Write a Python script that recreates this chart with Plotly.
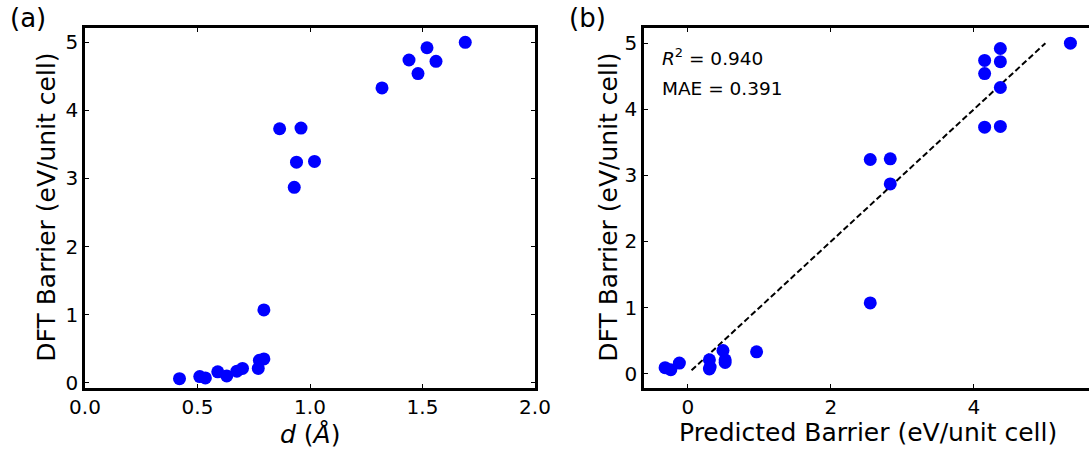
import plotly.graph_objects as go

# Data
dft_barrier = [0.06, 0.09, 0.07, 0.16, 0.10, 0.17, 0.21, 0.21, 0.33, 0.35, 1.07,
               3.73, 3.74, 3.24, 3.25, 2.87, 4.33, 4.74, 4.54, 4.92, 4.72, 5.00]
d_values = [0.42, 0.51, 0.535, 0.59, 0.63, 0.675, 0.70, 0.77, 0.775, 0.795, 0.795,
            0.865, 0.96, 0.94, 1.02, 0.93, 1.32, 1.44, 1.48, 1.52, 1.56, 1.69]
predicted = [-0.24, -0.32, 0.30, -0.12, 0.31, 0.52, 0.30, 0.52, 0.96, 0.49, 2.55,
             4.15, 4.37, 2.55, 2.83, 2.83, 4.37, 4.15, 4.15, 4.37, 4.37, 5.35]
parity_x = [0.05, 5.0]
parity_y = [0.05, 5.0]
xticks_a = [0, 0.5, 1.0, 1.5, 2.0]
xticklabels_a = ["0.0", "0.5", "1.0", "1.5", "2.0"]
xticks_b = [0, 2, 4]
yticks = [0, 1, 2, 3, 4, 5]

W, H = 1089, 453
FONT = "DejaVu Sans"
BLUE = "#0000ff"

fig = go.Figure()
fig.add_trace(go.Scatter(x=d_values, y=dft_barrier, mode="markers",
                         marker=dict(color=BLUE, size=13, line=dict(width=0)),
                         xaxis="x", yaxis="y", showlegend=False))
fig.add_trace(go.Scatter(x=parity_x, y=parity_y, mode="lines",
                         line=dict(color="black", width=2, dash="6px,3px"),
                         xaxis="x2", yaxis="y2", showlegend=False))
fig.add_trace(go.Scatter(x=predicted, y=dft_barrier, mode="markers",
                         marker=dict(color=BLUE, size=13, line=dict(width=0)),
                         xaxis="x2", yaxis="y2", showlegend=False, cliponaxis=False))

top_px, bot_px = 28, 387.5
top_y = 1 - top_px / H
bot_y = 1 - bot_px / H

common_ax = dict(showgrid=False, zeroline=False, showline=True, linecolor="black",
                 linewidth=2.5, ticks="inside", ticklen=4, tickwidth=1, tickcolor="black",
                 automargin=False,
                 tickfont=dict(family=FONT, size=20, color="black"))

def ann(text, x, y, size, angle=0, xanchor="center"):
    return dict(text=text, x=x / W, y=1 - y / H, xref="paper", yref="paper",
                xanchor=xanchor, yanchor="middle", showarrow=False, textangle=angle,
                font=dict(family=FONT, size=size, color="black"))

fig.update_layout(
    width=W, height=H,
    margin=dict(l=0, r=0, t=0, b=0, pad=0),
    paper_bgcolor="white", plot_bgcolor="white",
    font=dict(family=FONT, color="black"),
    xaxis=dict(common_ax, domain=[85 / W, 535 / W], range=[0, 2.0], anchor="y",
               tickvals=xticks_a, ticktext=xticklabels_a, mirror="ticks"),
    yaxis=dict(common_ax, domain=[bot_y, top_y], range=[-0.07, 5.21], anchor="x",
               tickvals=yticks, mirror="ticks"),
    xaxis2=dict(common_ax, domain=[644 / W, 1.0], range=[-0.615, 5.61], anchor="y2",
                tickvals=xticks_b, mirror="ticks"),
    yaxis2=dict(common_ax, domain=[bot_y, top_y], range=[-0.21, 5.23], anchor="x2",
                tickvals=yticks, mirror=False),
    annotations=[
        ann("(a)", 8, 18, 26, xanchor="left"),
        ann("(b)", 567, 18, 26, xanchor="left"),
        ann("<i>d</i> (<i>Å</i>)", 310, 434, 25),
        ann("Predicted Barrier (eV/unit cell)", 868, 432, 25),
        ann("DFT Barrier (eV/unit cell)", 47, (top_px + bot_px) / 2, 25, angle=-90),
        ann("DFT Barrier (eV/unit cell)", 609, (top_px + bot_px) / 2, 25, angle=-90),
        ann("<i>R</i><sup>2</sup> = 0.940", 660, 57, 18.5, xanchor="left"),
        ann("MAE = 0.391", 660, 88, 18.5, xanchor="left"),
    ],
)

fig.write_html("out.html")
